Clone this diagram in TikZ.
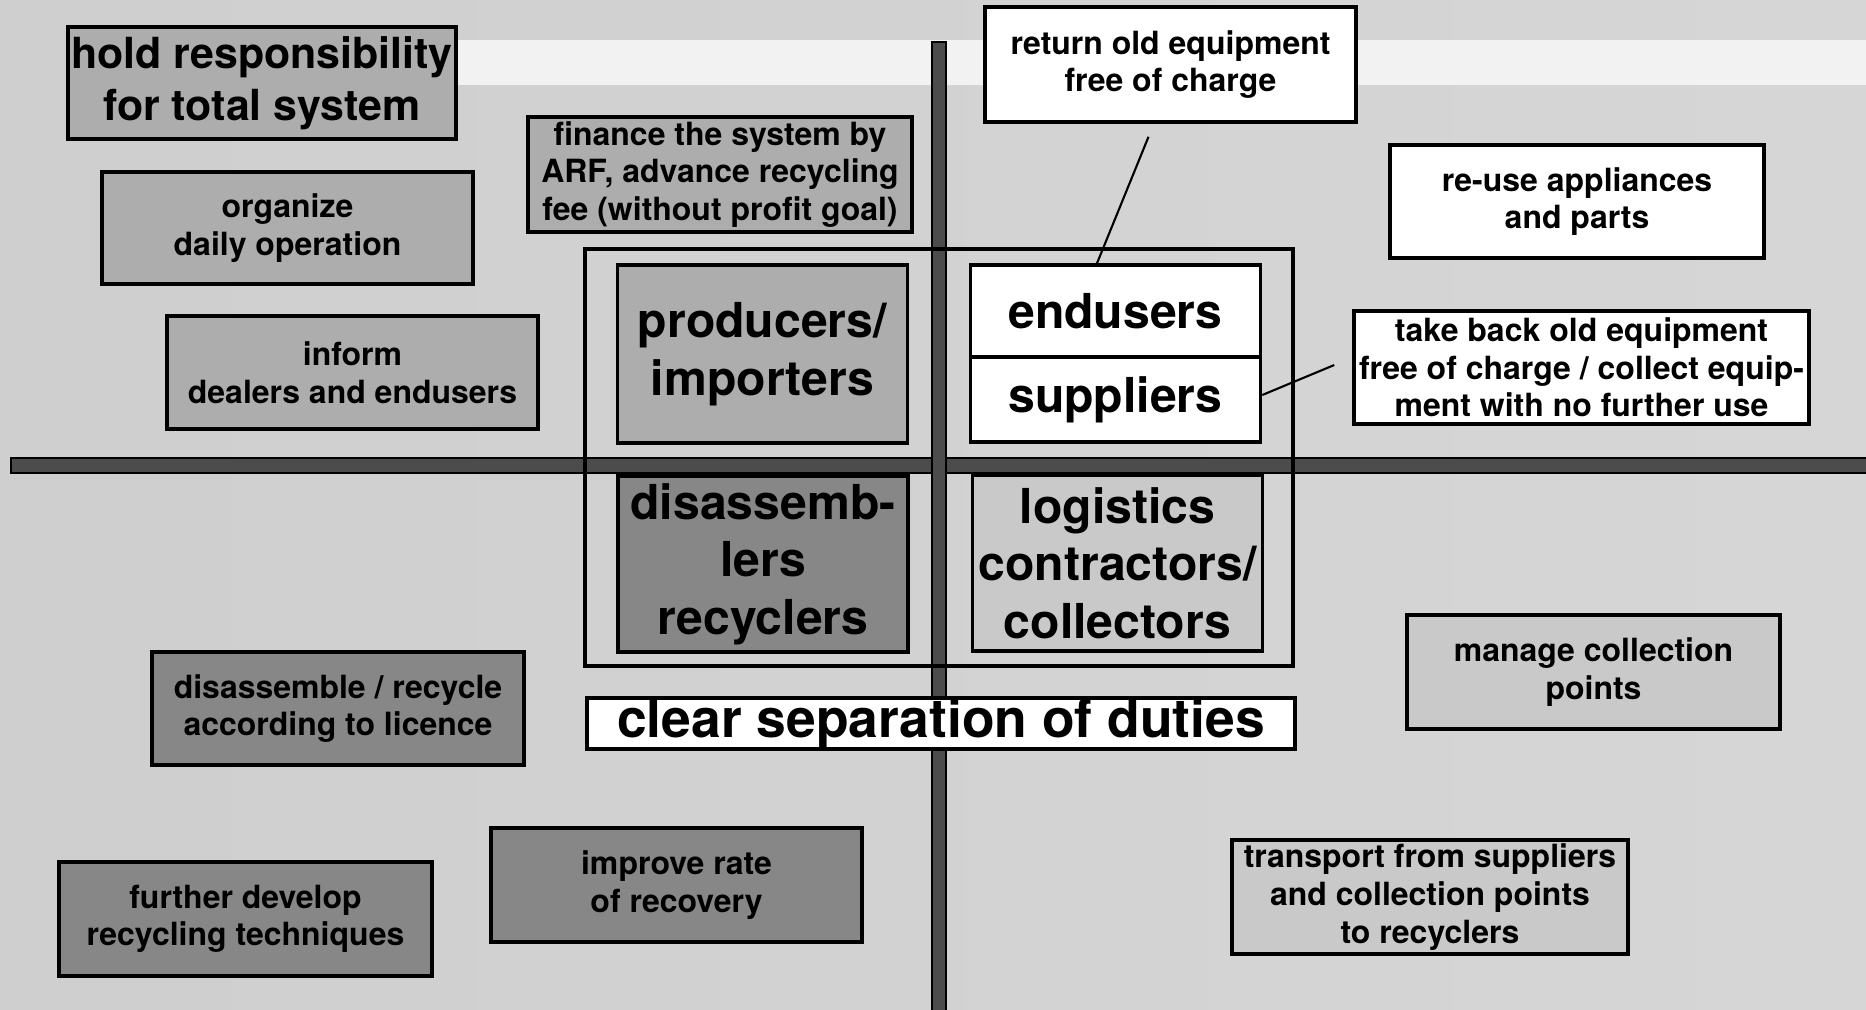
\documentclass[tikz,border=0pt]{standalone}
\usepackage{fontspec}
\setmainfont{TeX Gyre Heros}
\usepackage{xcolor}
\usepackage{tikz}
\usetikzlibrary{positioning,calc}

\definecolor{paperleft}{gray}{0.81}
\definecolor{paperright}{gray}{0.84}
\definecolor{paperband}{gray}{0.95}
\definecolor{midgrey}{gray}{0.68}
\definecolor{darkgrey}{gray}{0.53}
\definecolor{lightgrey}{gray}{0.79}
\definecolor{bargrey}{gray}{0.30}

\tikzset{
    duty/.style={draw, line width=1pt, inner sep=0pt, align=center,
        font=\bfseries\fontsize{9.1}{10.7}\selectfont},
    midbox/.style={duty, fill=midgrey},
    darkbox/.style={duty, fill=darkgrey},
    whitebox/.style={duty, fill=white},
    lightbox/.style={duty, fill=lightgrey},
    actor/.style={draw, line width=1pt, inner sep=0pt, align=center,
        minimum width=2.9cm, font=\bfseries\fontsize{13.7}{16.4}\selectfont},
    axis/.style={fill=bargrey, draw=black, line width=0.6pt},
    link/.style={line width=0.6pt},
}

\begin{document}
\begin{tikzpicture}
    \shade[left color=paperleft, right color=paperright] (0,0) rectangle (18.66,10.09);
    \fill[paperband] (4.56,9.24) rectangle (18.66,9.69);
    \useasboundingbox (0,0) rectangle (18.66,10.09);

    \filldraw[axis] (0.11,5.36) rectangle (18.75,5.51);
    \filldraw[axis] (9.32,-0.1) rectangle (9.46,9.67);
    \draw[line width=1pt] (5.85,3.43) rectangle (12.93,7.60);

    % the four parties
    \node[actor, fill=midgrey, minimum height=1.78cm] (producers) at (7.625,6.55) {producers/\\importers};
    \node[actor, fill=white, minimum height=0.92cm] (endusers) at (11.155,6.98) {endusers};
    \node[actor, fill=white, minimum height=0.85cm, below=-1pt of endusers] (suppliers) {suppliers};
    \node[actor, fill=darkgrey, minimum height=1.76cm] (recyclers) at (7.63,4.45) {disassemb-\\lers\\recyclers};
    \node[actor, fill=lightgrey, minimum height=1.76cm] (logistics) at (11.175,4.46) {logistics\\contractors/\\collectors};

    \node[draw, line width=1pt, fill=white, inner sep=0pt, minimum width=7.08cm, minimum height=0.49cm,
        font=\bfseries\fontsize{15.2}{18}\selectfont] (separation) at (9.41,2.855) {clear separation of duties};

    % duties
    \node[midbox, minimum width=3.88cm, minimum height=1.12cm, font=\bfseries\fontsize{12.2}{14.8}\selectfont]
        (total) at (2.62,9.26) {hold responsibility\\for total system};
    \node[midbox, minimum width=3.71cm, minimum height=1.12cm] (organize) at (2.875,7.81) {organize\\daily operation};
    \node[midbox, minimum width=3.71cm, minimum height=1.13cm] (inform) at (3.525,6.365) {inform\\dealers and endusers};
    \node[midbox, minimum width=3.84cm, minimum height=1.15cm] (finance) at (7.20,8.345) {finance the system by\\ARF, advance recycling\\fee (without profit goal)};

    \node[whitebox, minimum width=3.71cm, minimum height=1.15cm] (return) at (11.705,9.445) {return old equipment\\free of charge};
    \node[whitebox, minimum width=3.74cm, minimum height=1.13cm] (reuse) at (15.77,8.075) {re-use appliances\\and parts};
    \node[whitebox, minimum width=4.55cm, minimum height=1.13cm] (takeback) at (15.815,6.415) {take back old equipment\\free of charge / collect equip-\\ment with no further use};

    \node[darkbox, minimum width=3.72cm, minimum height=1.13cm] (licence) at (3.38,3.005) {disassemble / recycle\\according to licence};
    \node[darkbox, minimum width=3.73cm, minimum height=1.14cm] (develop) at (2.455,0.90) {further develop\\recycling techniques};
    \node[darkbox, minimum width=3.71cm, minimum height=1.14cm] (recovery) at (6.765,1.24) {improve rate\\of recovery};

    \node[lightbox, minimum width=3.73cm, minimum height=1.14cm] (manage) at (15.935,3.37) {manage collection\\points};
    \node[lightbox, minimum width=3.96cm, minimum height=1.14cm] (transport) at (14.30,1.12) {transport from suppliers\\and collection points\\to recyclers};

    \coordinate (returnfoot) at ($(return.south)+(-0.22,-0.13)$);
    \coordinate (takebackfoot) at ($(takeback.west)+(-0.18,0.025)$);
    \draw[link] (returnfoot) -- ([xshift=-1.85mm]endusers.north);
    \draw[link] ([yshift=0.45mm]suppliers.east) -- (takebackfoot);
\end{tikzpicture}
\end{document}
